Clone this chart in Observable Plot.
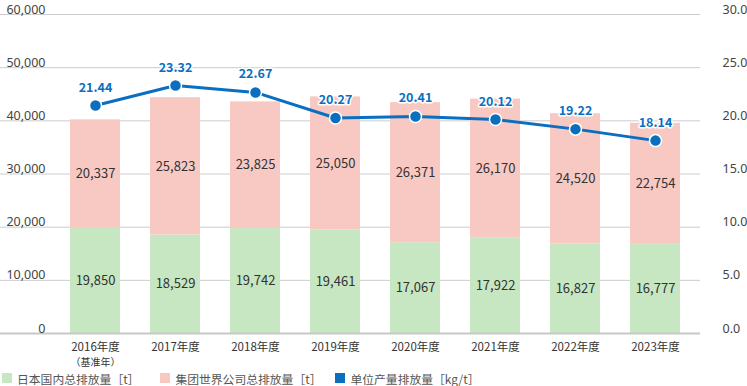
<!DOCTYPE html>
<html>
<head>
<meta charset="utf-8">
<script src="https://cdn.jsdelivr.net/npm/d3@7"></script>
<script src="https://cdn.jsdelivr.net/npm/@observablehq/plot@0.6"></script>
<style>
  body { margin: 0; background: #fff; font-family: "Noto Sans CJK SC", "Noto Sans", sans-serif; }
  svg { overflow: visible; }
  #legend { display: flex; align-items: center; height: 16px; font-size: 11.8px; color: #555; padding-left: 2px; }
  #legend .item { display: flex; align-items: center; }
  #legend .sw { width: 10px; height: 10px; margin-right: 5px; display: inline-block; }
</style>
</head>
<body>
<div id="chart"></div>
<div id="legend"></div>
<script>
const years = ["2016年度", "2017年度", "2018年度", "2019年度", "2020年度", "2021年度", "2022年度", "2023年度"];
const yearNotes = ["（基准年）", "", "", "", "", "", "", ""];
const domestic = [19850, 18529, 19742, 19461, 17067, 17922, 16827, 16777];
const group = [20337, 25823, 23825, 25050, 26371, 26170, 24520, 22754];
const unitRate = [21.44, 23.32, 22.67, 20.27, 20.41, 20.12, 19.22, 18.14];
const leftTicks = [0, 10000, 20000, 30000, 40000, 50000, 60000];
const seriesNames = ["日本国内总排放量［t］", "集团世界公司总排放量［t］", "单位产量排放量［kg/t］"];
const colors = ["#c6e7c1", "#f8c9c3", "#0a6fc0"];

const ratio = 60000 / 30; // left units per right unit
const rows = years.map((y, i) => ({
  year: y, note: yearNotes[i],
  domestic: domestic[i], group: group[i], rate: unitRate[i],
  top: domestic[i] + group[i]
}));
const fmt = d3.format(",");

const chart = Plot.plot({
  width: 747,
  height: 370,
  marginLeft: 0,
  marginRight: 47,
  marginTop: 14,
  marginBottom: 37,
  style: { fontFamily: "'Noto Sans CJK SC', 'Noto Sans', sans-serif", fontSize: "12px", color: "#333", overflow: "visible" },
  x: { domain: years, range: [55, 695], paddingInner: 0.375, paddingOuter: 0.1875 },
  y: { domain: [0, 60000] },
  marks: [
    Plot.ruleY(leftTicks.filter(d => d > 0), { stroke: "#cccccc", strokeWidth: 1 }),
    Plot.barY(rows, { x: "year", y1: 0, y2: "domestic", fill: colors[0] }),
    Plot.barY(rows, { x: "year", y1: "domestic", y2: "top", fill: colors[1] }),
    Plot.ruleY([0], { stroke: "#c8c8c8", strokeWidth: 2 }),
    Plot.text(rows, { x: "year", y: d => d.domestic / 2, text: d => fmt(d.domestic), fill: "#333", fontSize: 13 }),
    Plot.text(rows, { x: "year", y: d => d.domestic + d.group / 2, text: d => fmt(d.group), fill: "#333", fontSize: 13 }),
    Plot.line(rows, { x: "year", y: d => d.rate * ratio, stroke: colors[2], strokeWidth: 3 }),
    Plot.dot(rows, { x: "year", y: d => d.rate * ratio, r: 6, fill: colors[2], stroke: "#fff", strokeWidth: 1.5 }),
    Plot.text(rows, { x: "year", y: d => d.rate * ratio, text: d => d.rate.toFixed(2), dy: -18, fill: colors[2], fontWeight: "bold", fontSize: 12.5, stroke: "#fff", strokeWidth: 3 }),
    Plot.axisY(leftTicks, { anchor: "left", label: null, tickSize: 0, tickPadding: 3, dx: 48, dy: -5, tickFormat: d => fmt(d), fill: "#444", fontSize: 12.5, fontFamily: "'Noto Sans', sans-serif" }),
    Plot.axisY(leftTicks, { anchor: "right", label: null, tickSize: 0, tickPadding: 3, dx: 19, dy: -5, tickFormat: d => (d / ratio).toFixed(1), fill: "#444", fontSize: 12.5, fontFamily: "'Noto Sans', sans-serif" }),
    Plot.axisX({ anchor: "bottom", label: null, tickSize: 0, tickPadding: 9, fill: "#333", fontSize: 11.5 }),
    Plot.text(rows, { x: "year", y: 0, text: "note", dy: 29, fill: "#333", fontSize: 10 })
  ]
});
document.getElementById("chart").appendChild(chart);

const legend = document.getElementById("legend");
const gaps = [21, 14, 0];
seriesNames.forEach((name, i) => {
  const item = document.createElement("span");
  item.className = "item";
  item.style.marginRight = gaps[i] + "px";
  item.innerHTML = `<span class="sw" style="background:${colors[i]}"></span>${name}`;
  legend.appendChild(item);
});
</script>
</body>
</html>
